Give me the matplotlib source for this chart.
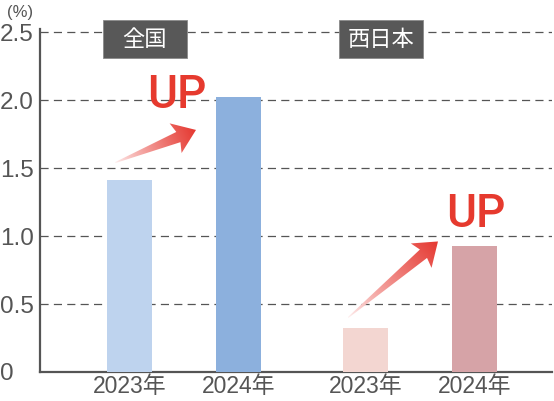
import numpy as np
import matplotlib
matplotlib.use("Agg")
import matplotlib.pyplot as plt
from matplotlib.patches import Polygon, Rectangle

plt.rcParams['font.family'] = ['Liberation Sans', 'Noto Sans CJK JP', 'DejaVu Sans']

# データ
groups = ["全国", "西日本"]
years = ["2023年", "2024年"]
values_all = [1.41, 2.02]
values_west = [0.32, 0.93]
y_ticks = [0, 0.5, 1.0, 1.5, 2.0, 2.5]
y_tick_labels = ["0", "0.5", "1.0", "1.5", "2.0", "2.5"]

bar_colors_all = ["#bed3ee", "#8cb0dd"]
bar_colors_west = ["#f3d6d1", "#d6a3a7"]
grey = "#555555"
red = "#e63a2e"

fig = plt.figure(figsize=(5.54, 4.01), dpi=100)
ax = fig.add_axes([40 / 554, 29 / 401, 512 / 554, 342.7 / 401])

group_x = [0.0, 2.165]
bar_w = 0.413
xlim = (-0.821, 3.876)
ylim = (0, 2.52)

# 棒グラフ
for gx, vals, cols in [(group_x[0], values_all, bar_colors_all),
                       (group_x[1], values_west, bar_colors_west)]:
    ax.bar([gx, gx + 1], vals, width=bar_w, color=cols, zorder=3)

ax.set_xlim(*xlim)
ax.set_ylim(*ylim)

# グリッド（破線）
for yv in y_ticks[1:]:
    ax.axhline(yv, color=grey, lw=0.9, dashes=(6.5, 4.2), zorder=1)

ax.set_yticks(y_ticks)
ax.set_yticklabels(y_tick_labels, fontsize=17.5, color=grey)
for lab in ax.get_yticklabels():
    lab.set_horizontalalignment('left')
ax.tick_params(axis='y', length=0, pad=29)

ax.set_xticks([group_x[0], group_x[0] + 1, group_x[1], group_x[1] + 1])
ax.set_xticklabels(years * 2, fontsize=16.5, color=grey)
ax.tick_params(axis='x', length=0, pad=2)

for s in ['top', 'right']:
    ax.spines[s].set_visible(False)
for s in ['left', 'bottom']:
    ax.spines[s].set_color(grey)
    ax.spines[s].set_linewidth(1.6)

fig.text(7 / 554, 1 - 13 / 401, "(%)", fontsize=12, color=grey, va='center', ha='left')

# グループ名ラベル
for gx, name in zip(group_x, groups):
    cx = gx + 0.5 - 0.36
    ax.add_patch(Rectangle((cx - 0.385, 2.31), 0.771, 0.279, facecolor="#585858",
                           edgecolor="#8a8a8a", lw=0.6, clip_on=False, zorder=5))
    ax.text(cx, 2.445, name, color="white", fontsize=16, ha='center', va='center',
            family=['Noto Sans CJK JP'], zorder=6, clip_on=False)


def grad_arrow(ax, tail, tip, head_len=19, head_w=16, shaft_w=5.5, tail_w=0.5):
    T = ax.transData
    p0 = T.transform(tail)
    p1 = T.transform(tip)
    d = p1 - p0
    L = np.hypot(*d)
    u = d / L
    n = np.array([-u[1], u[0]])
    base = p1 - u * head_len
    pts = [p0 + n * tail_w, base + n * shaft_w, base - u * 3 + n * head_w, p1,
           base - u * 3 - n * head_w, base - n * shaft_w, p0 - n * tail_w]
    dpts = T.inverted().transform(np.array(pts))
    poly = Polygon(dpts, closed=True, fc='none', ec='none', transform=T)
    ax.add_patch(poly)
    xmin, ymin = dpts.min(axis=0)
    xmax, ymax = dpts.max(axis=0)
    xs = np.linspace(xmin, xmax, 200)
    ys = np.linspace(ymin, ymax, 200)
    X, Y = np.meshgrid(xs, ys)
    disp = T.transform(np.column_stack([X.ravel(), Y.ravel()]))
    t = np.clip(((disp - p0) @ u) / L, 0, 1).reshape(X.shape)
    t = t ** 0.8
    c0 = np.array([1.0, 0.95, 0.95])
    c1 = np.array([0.898, 0.22, 0.19])
    img = c0[None, None, :] * (1 - t[..., None]) + c1[None, None, :] * t[..., None]
    im = ax.imshow(img, extent=(xmin, xmax, ymin, ymax), origin='lower',
                   aspect='auto', zorder=4, interpolation='bilinear')
    im.set_clip_path(poly)


# 矢印と「UP」
grad_arrow(ax, (group_x[0] - 0.13, values_all[0] + 0.13),
           (group_x[0] + 1 - 0.39, values_all[1] - 0.24))
grad_arrow(ax, (group_x[1] - 0.16, values_west[0] + 0.08),
           (group_x[1] + 1 - 0.335, values_west[1] + 0.03))
ax.set_xlim(*xlim)
ax.set_ylim(*ylim)

up_font = dict(color=red, fontsize=33, ha='center', va='baseline',
               family=['Roboto', 'Noto Sans CJK JP'], weight=500, zorder=6, clip_on=False)
ax.text(group_x[0] + 0.436, 1.94, "UP", **up_font)
ax.text(group_x[1] + 1.015, 1.066, "UP", **up_font)

fig.savefig("out.png", dpi=100)
